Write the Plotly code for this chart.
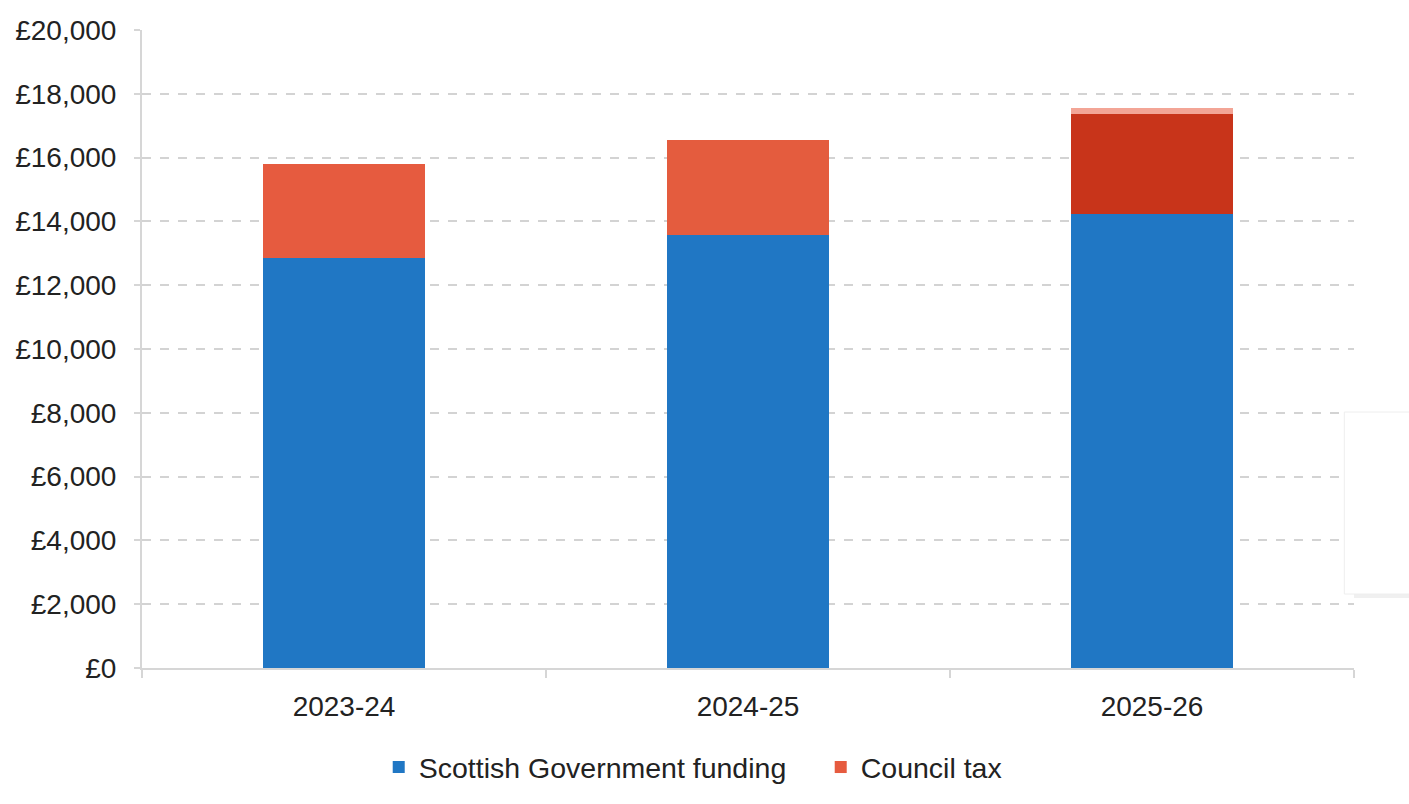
import plotly.graph_objects as go

years = ["2023-24", "2024-25", "2025-26"]
sg_funding = [12850, 13580, 14230]
council_tax = [2950, 2980, 3130]
council_tax_colours = ["#E65B3F", "#E45C3E", "#C8341A"]
top_up = [0, 0, 190]

y_ticks = list(range(0, 20001, 2000))
y_labels = [f"£{v:,}" for v in y_ticks]

fig = go.Figure()
fig.add_trace(go.Bar(
    x=years, y=sg_funding, name="Scottish Government funding",
    marker=dict(color="#2077C4", line=dict(width=0)), width=0.4,
))
fig.add_trace(go.Bar(
    x=years, y=council_tax, name="Council tax",
    marker=dict(color=council_tax_colours, line=dict(width=0)), width=0.4,
))
fig.add_trace(go.Bar(
    x=years, y=top_up, name="", showlegend=False,
    marker=dict(color="#F3A596", line=dict(width=0)), width=0.4,
))

font = "Liberation Sans, Arial, sans-serif"
fig.update_layout(
    barmode="stack",
    width=1409, height=804,
    margin=dict(l=142, r=55, t=30, b=136, autoexpand=False),
    paper_bgcolor="white", plot_bgcolor="white",
    font=dict(family=font, size=28, color="#222222"),
    showlegend=True,
    legend=dict(
        orientation="h", x=0.56, xanchor="center", y=-0.116, yanchor="top",
        font=dict(size=28.5, color="#222222"), itemsizing="constant",
        traceorder="normal", itemwidth=30, entrywidth=397,
    ),
)
fig.update_yaxes(
    range=[0, 20000], tickvals=y_ticks, ticktext=y_labels,
    showgrid=True, gridcolor="#D3D3D3", griddash="dash", gridwidth=2,
    showline=True, linecolor="#D6D6D6", linewidth=2,
    ticks="outside", ticklen=6, tickcolor="#D6D6D6", tickwidth=2,
    ticklabelstandoff=12, zeroline=False,
    tickfont=dict(size=28, color="#222222"),
)
fig.update_xaxes(
    range=[-0.5, 2.5], showline=True, linecolor="#D6D6D6", linewidth=2,
    ticks="outside", tickson="boundaries", ticklen=8, tickcolor="#D6D6D6",
    tickwidth=2, ticklabelstandoff=12, showgrid=False,
    tickfont=dict(size=28, color="#222222"),
)

# floating white panel at the right edge
fig.add_shape(type="rect", xref="paper", yref="paper",
              x0=1.0, x1=1.06, y0=(804 - 136 - 598) / 638, y1=(804 - 136 - 412) / 638,
              fillcolor="rgba(0,0,0,0.06)", line=dict(width=0), layer="above")
fig.add_shape(type="rect", xref="paper", yref="paper",
              x0=0.992, x1=1.06, y0=(804 - 136 - 594) / 638, y1=(804 - 136 - 412) / 638,
              fillcolor="white", line=dict(color="#EEEEEE", width=1), layer="above")

fig.write_html("out.html")
